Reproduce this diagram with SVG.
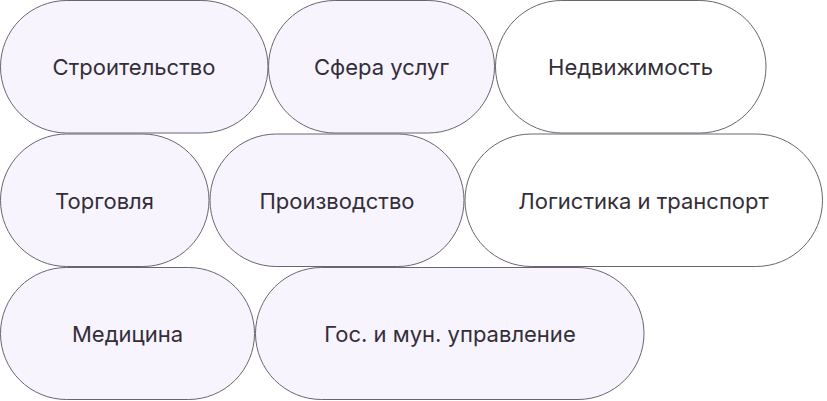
<svg xmlns="http://www.w3.org/2000/svg" width="827" height="401" viewBox="0 0 827 401">
<style>
.p{stroke:#6a6470;stroke-width:1;fill:#f7f4fe}
.w{fill:#ffffff}
.t{font-family:Inter,"Noto Sans","Liberation Sans",sans-serif;font-size:22px;font-weight:400;fill:#332e38;text-anchor:middle}
</style>
<rect width="827" height="401" fill="#ffffff"/>
<g id="connectors"></g>
<g id="n1"><rect class="p" x="0.5" y="0.5" width="267.5" height="132.5" rx="66.25"/><text class="t" x="134" y="75">Строительство</text></g>
<g id="n2"><rect class="p" x="268.5" y="0.5" width="226" height="132.5" rx="66.25"/><text class="t" x="381.5" y="75">Сфера услуг</text></g>
<g id="n3"><rect class="p w" x="495.5" y="0.5" width="270.5" height="132.5" rx="66.25"/><text class="t" x="630.5" y="75">Недвижимость</text></g>
<g id="n4"><rect class="p" x="0.5" y="134" width="208.5" height="132.5" rx="66.25"/><text class="t" x="104.5" y="208.5">Торговля</text></g>
<g id="n5"><rect class="p" x="210" y="134" width="254" height="132.5" rx="66.25"/><text class="t" x="337" y="208.5">Производство</text></g>
<g id="n6"><rect class="p w" x="465" y="134" width="357.5" height="132.5" rx="66.25"/><text class="t" x="643.5" y="208.5">Логистика и транспорт</text></g>
<g id="n7"><rect class="p" x="0.5" y="267.5" width="254" height="132" rx="66"/><text class="t" x="127.5" y="341.5">Медицина</text></g>
<g id="n8"><rect class="p" x="255.5" y="267.5" width="388.5" height="132" rx="66"/><text class="t" x="450" y="341.5">Гос. и мун. управление</text></g>
</svg>
